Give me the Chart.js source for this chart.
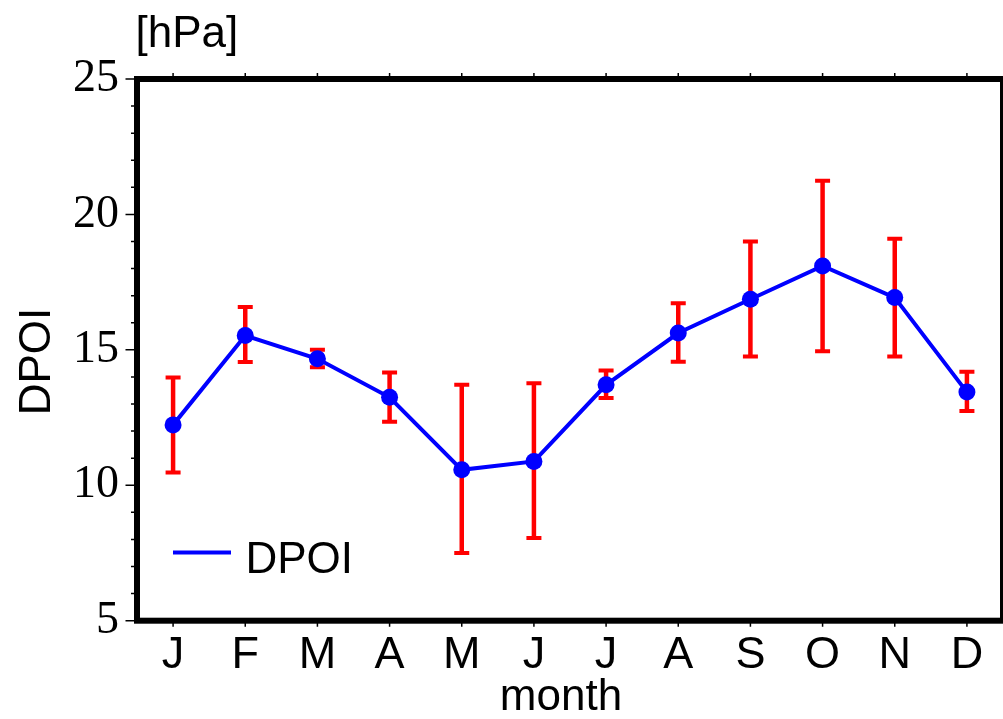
<!DOCTYPE html>
<html>
<head>
<meta charset="utf-8">
<script src="https://cdn.jsdelivr.net/npm/chart.js@4.4.0/dist/chart.umd.min.js"></script>
<style>
  html, body { margin: 0; padding: 0; background: #ffffff; }
  #wrap { width: 1003px; height: 719px; position: relative; }
</style>
</head>
<body>
<div id="wrap"><canvas id="c" width="1003" height="719"></canvas></div>
<script>
const months = ['J','F','M','A','M','J','J','A','S','O','N','D'];
const dpoi = [12.23, 15.53, 14.67, 13.25, 10.57, 10.88, 13.71, 15.62, 16.87, 18.10, 16.93, 13.44];
const errHigh = [13.98, 16.58, 15.00, 14.16, 13.71, 13.77, 14.24, 16.72, 19.00, 21.24, 19.10, 14.19];
const errLow = [10.47, 14.55, 14.36, 12.35, 7.50, 8.05, 13.22, 14.56, 14.75, 14.95, 14.75, 12.74];
const yMin = 5, yMax = 25, yMinorStep = 1, yMajorStep = 5;
const seriesName = 'DPOI';
const yTitle = 'DPOI';
const xTitle = 'month';
const unitLabel = '[hPa]';

const SANS = '"Liberation Sans", Arial, sans-serif';
const SERIF = '"Liberation Serif", "Times New Roman", serif';

const errorBars = {
  id: 'errorBars',
  beforeDatasetsDraw(chart) {
    const ctx = chart.ctx, xs = chart.scales.x, ys = chart.scales.y;
    ctx.save();
    ctx.strokeStyle = '#ff0000';
    ctx.lineCap = 'butt';
    for (let i = 0; i < dpoi.length; i++) {
      const x = xs.getPixelForValue(i);
      const yt = ys.getPixelForValue(errHigh[i]);
      const yb = ys.getPixelForValue(errLow[i]);
      ctx.lineWidth = 4.5;
      ctx.beginPath(); ctx.moveTo(x, yt); ctx.lineTo(x, yb); ctx.stroke();
      ctx.lineWidth = 4;
      ctx.beginPath();
      ctx.moveTo(x - 7.5, yt); ctx.lineTo(x + 7.5, yt);
      ctx.moveTo(x - 7.5, yb); ctx.lineTo(x + 7.5, yb);
      ctx.stroke();
    }
    ctx.restore();
  }
};

const frameAndText = {
  id: 'frameAndText',
  afterDatasetsDraw(chart) {
    const ctx = chart.ctx, a = chart.chartArea, xs = chart.scales.x, ys = chart.scales.y;
    ctx.save();
    // ticks
    ctx.strokeStyle = '#000';
    ctx.lineWidth = 1.5;
    ctx.beginPath();
    ys.ticks.forEach(t => {
      const y = ys.getPixelForValue(t.value);
      const major = Math.abs(t.value % yMajorStep) < 1e-9;
      ctx.moveTo(a.left - (major ? 11.5 : 6), y);
      ctx.lineTo(a.left, y);
    });
    xs.ticks.forEach((t, i) => {
      const x = xs.getPixelForTick(i);
      ctx.moveTo(x, a.top - 6); ctx.lineTo(x, a.top);
      ctx.moveTo(x, a.bottom); ctx.lineTo(x, a.bottom + 6);
    });
    ctx.stroke();
    // frame
    ctx.lineWidth = 6;
    ctx.strokeRect(a.left, a.top, a.right - a.left, a.bottom - a.top);
    // legend
    ctx.strokeStyle = '#0000ff';
    ctx.lineWidth = 4;
    ctx.beginPath(); ctx.moveTo(173, 552.5); ctx.lineTo(231, 552.5); ctx.stroke();
    ctx.fillStyle = '#000';
    ctx.font = '44px ' + SANS;
    ctx.textAlign = 'left';
    ctx.textBaseline = 'alphabetic';
    ctx.fillText(seriesName, 245.5, 572.5);
    // unit label
    ctx.fillText(unitLabel, 135.5, 47);
    // x title
    ctx.textAlign = 'center';
    ctx.fillText(xTitle, 561, 710);
    // y title
    ctx.translate(50, 361.5);
    ctx.rotate(-Math.PI / 2);
    ctx.fillText(yTitle, 0, 0);
    ctx.restore();
  }
};

new Chart(document.getElementById('c'), {
  type: 'line',
  data: {
    labels: months,
    datasets: [{
      label: seriesName,
      data: dpoi,
      borderColor: '#0000ff',
      backgroundColor: '#0000ff',
      borderWidth: 4,
      pointRadius: 8.5,
      pointHoverRadius: 8.5,
      pointBorderWidth: 0,
      pointBackgroundColor: '#0000ff',
      tension: 0,
      fill: false
    }]
  },
  options: {
    responsive: false,
    animation: false,
    events: [],
    layout: { autoPadding: false, padding: { top: 79, left: 0, right: 0, bottom: 0 } },
    plugins: { legend: { display: false }, tooltip: { enabled: false }, title: { display: false } },
    scales: {
      x: {
        type: 'category',
        offset: true,
        grid: { display: false, drawTicks: false },
        border: { display: false },
        ticks: { color: '#000', font: { family: SANS, size: 45 }, padding: 8, autoSkip: false, maxRotation: 0 },
        afterFit(s) { s.height = 98.3; }
      },
      y: {
        min: yMin, max: yMax,
        grid: { display: false, drawTicks: false },
        border: { display: false },
        ticks: {
          stepSize: yMinorStep,
          autoSkip: false,
          color: '#000',
          font: { family: SERIF, size: 46 },
          padding: 18,
          callback: v => (Math.abs(v % yMajorStep) < 1e-9 ? String(v) : '')
        },
        afterFit(s) { s.width = 137; }
      }
    }
  },
  plugins: [errorBars, frameAndText]
});
</script>
</body>
</html>
